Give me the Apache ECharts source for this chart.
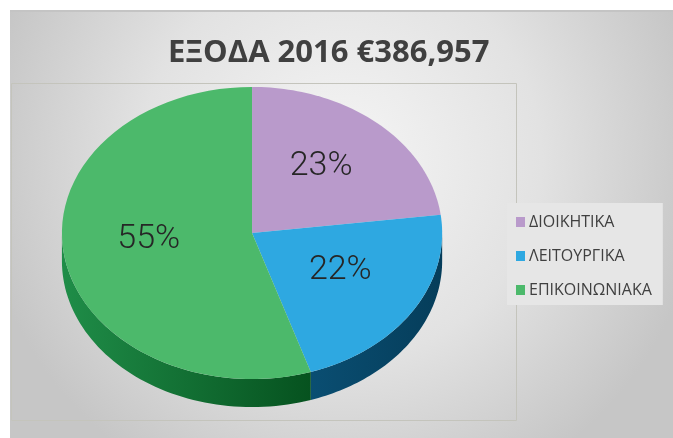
<!DOCTYPE html>
<html>
<head>
<meta charset="utf-8">
<script src="https://cdn.jsdelivr.net/npm/echarts@6/dist/echarts.min.js"></script>
<style>
  html, body { margin: 0; padding: 0; background: #fff; }
  #chart { width: 673px; height: 438px; }
</style>
</head>
<body>
<div id="chart"></div>
<script>
var titleText = 'ΕΞΟΔΑ 2016 €386,957'
var categories = ['ΔΙΟΙΚΗΤΙΚΑ', 'ΛΕΙΤΟΥΡΓΙΚΑ', 'ΕΠΙΚΟΙΝΩΝΙΑΚΑ']
var shares = [23, 22, 55]

var topColors = ['#b99acb', '#2ea8e1', '#4cb96b']
var wallColors = [
  ['#6f5a80', '#4f3f5e'],
  ['#0a4e72', '#053d5a'],
  ['#1f8d48', '#06521f']
]

var chart = echarts.init(document.getElementById('chart'))

function ellipsePoint(cx, cy, rx, ry, a) {
  return [cx + rx * Math.sin(a), cy - ry * Math.cos(a)]
}

// 3d-ish elliptical pie slice, angles taken from the shares
function renderSlice(params, api) {
  var i = params.seriesIndex
  var W = api.getWidth()
  var H = api.getHeight()
  var cx = W * 0.3745
  var cy = H * 0.532
  var rx = W * 0.2825
  var ry = H * 0.3335
  var depth = 28
  var total = shares.reduce(function (s, v) { return s + v }, 0)
  var before = 0
  for (var j = 0; j < i; j++) before += shares[j]
  var a1 = before / total * Math.PI * 2
  var a2 = (before + api.value(0)) / total * Math.PI * 2
  var children = []
  var n = 60
  var k, p

  // side wall, only the front half shows
  var w1 = Math.max(a1, Math.PI / 2)
  var w2 = Math.min(a2, Math.PI * 1.5)
  if (w2 > w1) {
    var wall = []
    for (k = 0; k <= n; k++) {
      wall.push(ellipsePoint(cx, cy, rx, ry, w1 + (w2 - w1) * k / n))
    }
    for (k = n; k >= 0; k--) {
      p = ellipsePoint(cx, cy, rx, ry, w1 + (w2 - w1) * k / n)
      wall.push([p[0], p[1] + depth])
    }
    children.push({
      type: 'polygon',
      shape: { points: wall },
      style: {
        fill: new echarts.graphic.LinearGradient(0, 0, 1, 0, [
          { offset: 0, color: wallColors[i][0] },
          { offset: 1, color: wallColors[i][1] }
        ])
      }
    })
  }

  var top = [[cx, cy]]
  for (k = 0; k <= n; k++) {
    top.push(ellipsePoint(cx, cy, rx, ry, a1 + (a2 - a1) * k / n))
  }
  children.push({
    type: 'polygon',
    shape: { points: top },
    style: { fill: topColors[i] }
  })

  var mid = (a1 + a2) / 2
  var f = 0.55
  children.push({
    type: 'text',
    x: cx + rx * f * Math.sin(mid),
    y: cy - ry * f * Math.cos(mid) - 6,
    style: {
      text: Math.round(api.value(0) / total * 100) + '%',
      fill: '#262626',
      font: '300 34px Roboto',
      align: 'center',
      verticalAlign: 'middle'
    }
  })

  return { type: 'group', children: children }
}

var series = categories.map(function (name, i) {
  return {
    name: name,
    type: 'custom',
    coordinateSystem: 'none',
    itemStyle: { color: topColors[i] },
    renderItem: renderSlice,
    data: [[shares[i]]]
  }
})

chart.setOption({
  backgroundColor: '#fff',
  animation: false,
  graphic: [
    {
      type: 'rect',
      silent: true,
      z: -10,
      shape: { x: 10, y: 10, width: 663, height: 428 },
      style: {
        fill: new echarts.graphic.RadialGradient(0.5, 0.35, 0.85, [
          { offset: 0, color: '#f5f5f5' },
          { offset: 0.55, color: '#e2e2e2' },
          { offset: 1, color: '#c6c6c6' }
        ])
      }
    },
    {
      type: 'rect',
      silent: true,
      z: -9,
      shape: { x: 10, y: 10, width: 663, height: 2 },
      style: { fill: '#c4c4c4' }
    },
    {
      type: 'rect',
      silent: true,
      z: -9,
      shape: { x: 11.5, y: 83.5, width: 505, height: 337 },
      style: { fill: 'none', stroke: '#c4c4bc', lineWidth: 1 }
    }
  ],
  title: {
    text: titleText,
    left: 163,
    top: 33,
    textStyle: {
      fontFamily: 'Open Sans',
      fontWeight: 'bold',
      fontSize: 31,
      color: '#404040'
    }
  },
  legend: {
    orient: 'vertical',
    left: 507,
    top: 203,
    backgroundColor: '#e6e6e6',
    padding: [11, 11, 7, 9],
    itemGap: 18,
    itemWidth: 9,
    itemHeight: 10,
    icon: 'rect',
    selectedMode: false,
    textStyle: {
      fontFamily: 'Open Sans',
      fontSize: 16,
      color: '#404040',
      padding: [0, 0, 0, -1]
    },
    data: categories
  },
  series: series
})
</script>
</body>
</html>
